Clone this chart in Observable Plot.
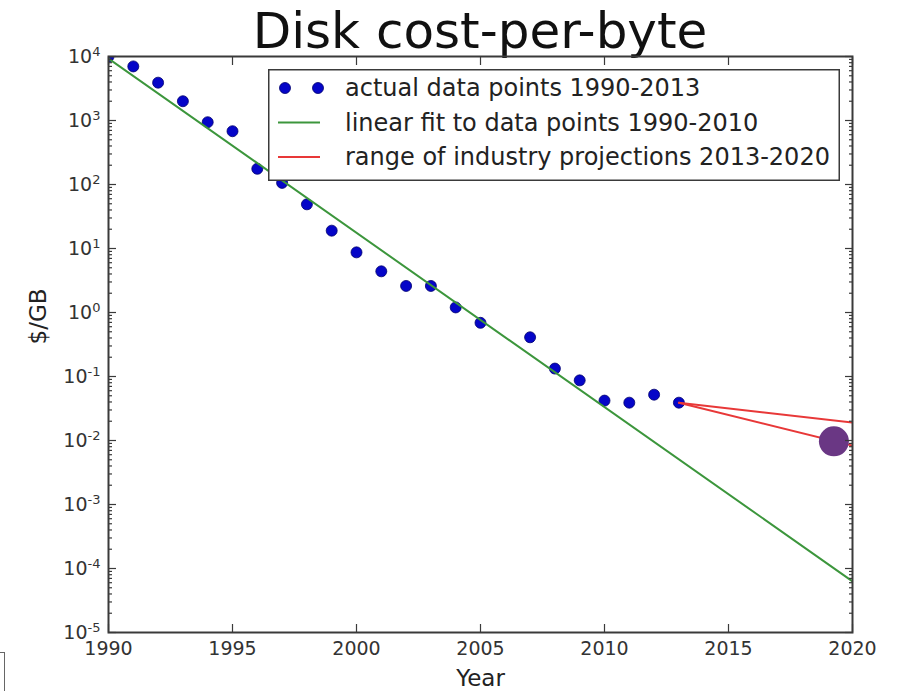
<!DOCTYPE html>
<html>
<head>
<meta charset="utf-8">
<script src="https://cdn.jsdelivr.net/npm/d3@7"></script>
<script src="https://cdn.jsdelivr.net/npm/@observablehq/plot@0.6"></script>
<style>
  body { margin: 0; background: #fff; width: 897px; height: 691px; overflow: hidden; position: relative; font-family: "DejaVu Sans", sans-serif; }
  #title { height: 50px; font-size: 50px; line-height: 62px; text-align: center; padding-left: 108px; padding-right: 45px; color: #111; white-space: nowrap; }
  #chart svg { overflow: visible; display: block; }
  #legend { position: absolute; left: 268px; top: 69px; }
  #crop { position: absolute; left: -10px; top: 652px; width: 13px; height: 60px; border: 1px solid #666; }
</style>
</head>
<body>
<div id="title">Disk cost-per-byte</div>
<div id="chart"></div>
<div id="legend"></div>
<div id="crop"></div>
<script>
// Average disk price in dollars per gigabyte, by year
const years = [1990, 1991, 1992, 1993, 1994, 1995, 1996, 1997, 1998, 1999, 2000, 2001, 2002,
               2003, 2004, 2005, 2007, 2008, 2009, 2010, 2011, 2012, 2013];
const costs = [10000, 7000, 3900, 2000, 940, 680, 176, 106, 49, 19, 8.7, 4.4, 2.6,
               2.6, 1.2, 0.69, 0.41, 0.133, 0.087, 0.042, 0.039, 0.052, 0.039];

// Log-linear fit to the 1990-2010 prices
const fitYears = [1990, 2020];
const fitCosts = [9300, 6.3e-5];

// Industry projections from the last data point to 2020 (high and low)
const projYears = [2013, 2020];
const projHigh = [0.039, 0.019];
const projLow = [0.039, 0.0083];

// Highlighted target
const markYears = [2019.25];
const markCosts = [0.0097];

const xTicks = [1990, 1995, 2000, 2005, 2010, 2015, 2020];
const yExponents = [-5, -4, -3, -2, -1, 0, 1, 2, 3, 4];

const legendLabels = [
  "actual data points 1990-2013",
  "linear fit to data points 1990-2010",
  "range of industry projections 2013-2020"
];

const BLUE = "#0505c8", GREEN = "#3c963c", RED = "#e83838", PURPLE = "#6a3784", AXIS = "#3a3a3a";

const points = years.map((year, i) => ({year, cost: costs[i]}));
const fit = fitYears.map((year, i) => ({year, cost: fitCosts[i]}));
const projections = [
  ...projYears.map((year, i) => ({year, cost: projHigh[i], series: "high"})),
  ...projYears.map((year, i) => ({year, cost: projLow[i], series: "low"}))
];
const marker = markYears.map((year, i) => ({year, cost: markCosts[i]}));

const yMajor = yExponents.map(e => Math.pow(10, e));
const yMinor = [];
for (const e of yExponents.slice(0, -1)) for (let m = 2; m <= 9; m++) yMinor.push(m * Math.pow(10, e));

const tickStyle = {fill: "none", stroke: AXIS, strokeWidth: 1.2, label: null};

const chart = Plot.plot({
  width: 897,
  height: 641,
  marginLeft: 108,
  marginRight: 45,
  marginTop: 6,
  marginBottom: 59,
  style: {fontFamily: "DejaVu Sans, sans-serif", overflow: "visible", background: "white"},
  x: {domain: [1990, 2020]},
  y: {type: "log", domain: [1e-5, 1e4]},
  marks: [
    Plot.dot(points, {x: "year", y: "cost", r: 5.5, fill: BLUE, stroke: "#00006e", strokeWidth: 0.8, clip: true}),
    Plot.line(fit, {x: "year", y: "cost", stroke: GREEN, strokeWidth: 2, clip: true}),
    Plot.line(projections, {x: "year", y: "cost", z: "series", stroke: RED, strokeWidth: 2, clip: true}),
    Plot.dot(marker, {x: "year", y: "cost", r: 15, fill: PURPLE}),

    // inward major and minor ticks on all four sides
    Plot.axisX(xTicks, {anchor: "bottom", tickSize: 8, dy: -8, ...tickStyle}),
    Plot.axisX(xTicks, {anchor: "top", tickSize: 8, dy: 8, ...tickStyle}),
    Plot.axisY(yMajor, {anchor: "left", tickSize: 8, dx: 8, ...tickStyle}),
    Plot.axisY(yMajor, {anchor: "right", tickSize: 8, dx: -8, ...tickStyle}),
    Plot.axisY(yMinor, {anchor: "left", tickSize: 4, dx: 4, ...tickStyle}),
    Plot.axisY(yMinor, {anchor: "right", tickSize: 4, dx: -4, ...tickStyle}),

    // tick labels
    Plot.axisX(xTicks, {anchor: "bottom", tickSize: 0, tickPadding: 9, tickFormat: d => String(d),
                        fontSize: 19, fill: "#333", label: null}),
    Plot.axisY(yMajor, {anchor: "left", tickSize: 0, tickPadding: 8,
                        tickFormat: d => "10^" + Math.round(Math.log10(d)),
                        fontSize: 19, fill: "#333", label: null}),

    // axis titles
    Plot.text(["Year"], {text: d => d, frameAnchor: "bottom", dy: 46, lineAnchor: "middle", fontSize: 23, fill: "#222"}),
    Plot.text(["$/GB"], {text: d => d, frameAnchor: "left", dx: -70, rotate: -90, fontSize: 23, fill: "#222"}),

    Plot.frame({stroke: AXIS, strokeWidth: 2})
  ]
});

// Render the y tick labels as 10 with a superscript exponent
const ns = "http://www.w3.org/2000/svg";
chart.querySelectorAll('[aria-label="y-axis tick label"] text').forEach(t => {
  const [base, exp] = t.textContent.split("^");
  t.textContent = "";
  const b = document.createElementNS(ns, "tspan");
  b.textContent = base;
  const s = document.createElementNS(ns, "tspan");
  s.textContent = exp;
  s.setAttribute("font-size", "13");
  s.setAttribute("dy", "-7");
  t.append(b, s);
});

document.getElementById("chart").append(chart);

// Legend box
const lw = 572, lh = 112;
const lsvg = d3.select("#legend").append("svg").attr("width", lw).attr("height", lh)
  .style("font-family", "DejaVu Sans, sans-serif");
lsvg.append("rect").attr("x", 0.75).attr("y", 0.75).attr("width", lw - 1.5).attr("height", lh - 1.5)
  .attr("fill", "white").attr("stroke", AXIS).attr("stroke-width", 1.5);
legendLabels.forEach((label, i) => {
  const cy = 19 + i * 34.5;
  if (i === 0) {
    [17, 50].forEach(cx => lsvg.append("circle").attr("cx", cx).attr("cy", cy).attr("r", 5.5)
      .attr("fill", BLUE).attr("stroke", "#00006e").attr("stroke-width", 0.8));
  } else {
    lsvg.append("line").attr("x1", 10).attr("x2", 52).attr("y1", cy).attr("y2", cy)
      .attr("stroke", i === 1 ? GREEN : RED).attr("stroke-width", 2);
  }
  lsvg.append("text").attr("x", 77).attr("y", cy).attr("dy", "0.35em")
    .attr("font-size", 24).attr("fill", "#222").text(label);
});
</script>
</body>
</html>
